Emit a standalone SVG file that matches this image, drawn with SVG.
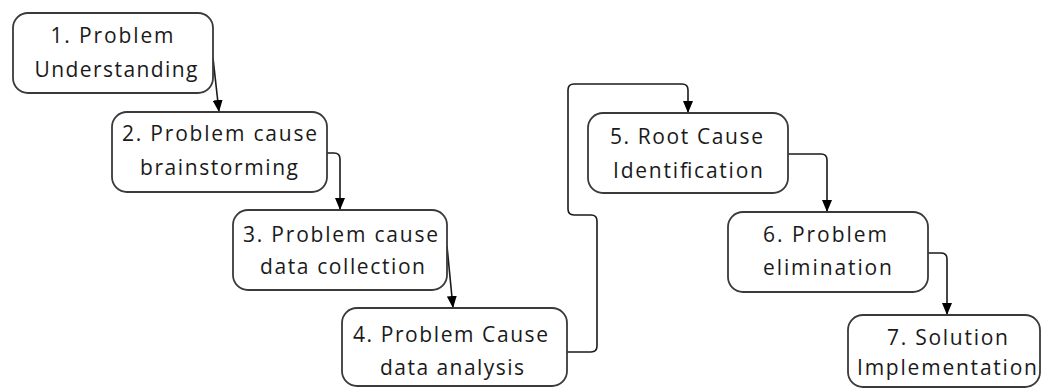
<svg xmlns="http://www.w3.org/2000/svg" width="1042" height="389" viewBox="0 0 1042 389">
  <style>
    .box { fill: #ffffff; stroke: #3a3a3a; stroke-width: 1.8; }
    .lbl { font-family: "Open Sans", "Liberation Sans", sans-serif; font-size: 21px; fill: #1a1a1a; text-anchor: middle; }
    .conn { fill: none; stroke: #1a1a1a; stroke-width: 1.6; }
  </style>
  <defs>
    <marker id="arrow" viewBox="0 0 12 10" refX="12" refY="5" markerWidth="12" markerHeight="10" markerUnits="userSpaceOnUse" orient="auto">
      <path d="M0,0 L12,5 L0,10 z" fill="#000000"/>
    </marker>
  </defs>
  <rect width="1042" height="389" fill="#ffffff"/>

  <g id="connectors">
    <path class="conn" d="M213,58 L219,112" marker-end="url(#arrow)"/>
    <path class="conn" d="M327,153 H334 Q340,153 340,159 V210" marker-end="url(#arrow)"/>
    <path class="conn" d="M447,246 L453,308" marker-end="url(#arrow)"/>
    <path class="conn" d="M567,352 H591 Q597,352 597,346 V221 Q597,215 591,215 H574 Q568,215 568,209 V90 Q568,84 574,84 H682 Q688,84 688,90 V113" marker-end="url(#arrow)"/>
    <path class="conn" d="M788,154 H821 Q827,154 827,160 V212" marker-end="url(#arrow)"/>
    <path class="conn" d="M928,253 H941 Q947,253 947,259 V315" marker-end="url(#arrow)"/>
  </g>

  <g id="node1">
    <rect class="box" x="13" y="13" width="200" height="80" rx="15" ry="15"/>
    <text class="lbl" x="112" y="43" textLength="123" lengthAdjust="spacing">1. Problem</text>
    <text class="lbl" x="116" y="77" textLength="163" lengthAdjust="spacing">Understanding</text>
  </g>
  <g id="node2">
    <rect class="box" x="112" y="112" width="215" height="80" rx="15" ry="15"/>
    <text class="lbl" x="219.5" y="141" textLength="195" lengthAdjust="spacing">2. Problem cause</text>
    <text class="lbl" x="219" y="175" textLength="158" lengthAdjust="spacing">brainstorming</text>
  </g>
  <g id="node3">
    <rect class="box" x="233" y="210" width="214" height="80" rx="15" ry="15"/>
    <text class="lbl" x="340.5" y="242" textLength="195" lengthAdjust="spacing">3. Problem cause</text>
    <text class="lbl" x="342.5" y="274" textLength="165" lengthAdjust="spacing">data collection</text>
  </g>
  <g id="node4">
    <rect class="box" x="342" y="308" width="225" height="78" rx="15" ry="15"/>
    <text class="lbl" x="450.5" y="342" textLength="195" lengthAdjust="spacing">4. Problem Cause</text>
    <text class="lbl" x="452" y="375" textLength="144" lengthAdjust="spacing">data analysis</text>
  </g>
  <g id="node5">
    <rect class="box" x="588" y="113" width="200" height="80" rx="15" ry="15"/>
    <text class="lbl" x="686.5" y="144" textLength="153" lengthAdjust="spacing">5. Root Cause</text>
    <text class="lbl" x="688" y="178" textLength="150" lengthAdjust="spacing">Identification</text>
  </g>
  <g id="node6">
    <rect class="box" x="728" y="212" width="200" height="80" rx="15" ry="15"/>
    <text class="lbl" x="825" y="242" textLength="124" lengthAdjust="spacing">6. Problem</text>
    <text class="lbl" x="827.5" y="275" textLength="129" lengthAdjust="spacing">elimination</text>
  </g>
  <g id="node7">
    <rect class="box" x="848" y="315" width="192" height="72" rx="15" ry="15"/>
    <text class="lbl" x="947.5" y="345" textLength="121" lengthAdjust="spacing">7. Solution</text>
    <text class="lbl" x="947" y="375" textLength="180" lengthAdjust="spacing">Implementation</text>
  </g>
</svg>
